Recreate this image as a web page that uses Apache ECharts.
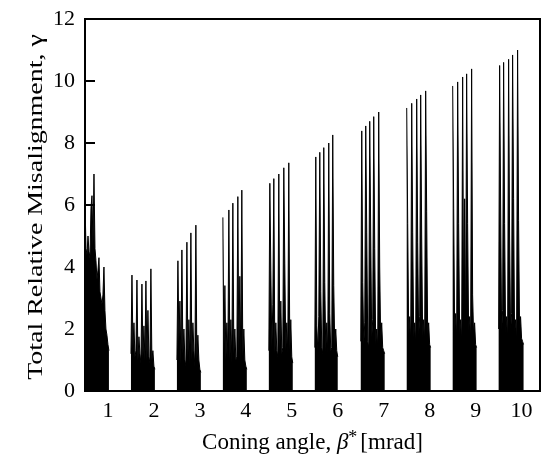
<!DOCTYPE html>
<html>
<head>
<meta charset="utf-8">
<script src="https://cdn.jsdelivr.net/npm/echarts@6/dist/echarts.min.js"></script>
<style>html,body{margin:0;padding:0;background:#fff}#c{width:542px;height:469px}</style>
</head>
<body>
<div id="c"></div>
<script>
// Coning angle tick labels (mrad)
const coningAngles = [1, 2, 3, 4, 5, 6, 7, 8, 9, 10];
// start of each sweep cluster on the coning-angle axis
const groupStart = [0.5, 1.5, 2.5, 3.5, 4.5, 5.5, 6.5, 7.5, 8.5, 9.5];
// spacing between samples inside a cluster (mrad)
const sampleStep = 0.0217;
const yTicks = [0, 2, 4, 6, 8, 10, 12];

// Total relative misalignment samples, one array per coning angle
const group1 = [6.1, 4.6, 4.4, 5.0, 4.5, 4.3, 5.9, 6.3, 4.7, 7.0, 4.6, 4.2, 3.6, 3.9, 4.3, 3.2, 3.0, 2.8, 3.1, 4.0, 2.6, 2.0, 1.8, 1.5, 1.3];
const group2 = [1.2, 3.74, 1.4, 2.2, 1.1, 1.3, 3.58, 1.0, 1.75, 1.2, 0.9, 3.45, 1.1, 2.1, 1.0, 3.55, 1.0, 2.6, 1.1, 0.9, 3.94, 1.0, 1.3, 0.8, 0.7];
const group3 = [1.0, 4.2, 1.6, 2.9, 0.9, 4.55, 1.2, 2.0, 1.0, 0.8, 4.8, 1.1, 2.3, 0.9, 5.1, 1.0, 2.2, 1.3, 0.8, 5.35, 1.0, 1.8, 1.0, 0.7, 0.6];
const group4 = [5.6, 1.2, 3.4, 1.0, 2.2, 1.1, 5.84, 1.0, 2.3, 0.9, 6.06, 1.2, 2.0, 1.0, 1.1, 6.27, 1.2, 3.7, 1.0, 6.48, 1.1, 2.0, 1.0, 0.8, 0.7];
const group5 = [1.3, 6.7, 3.9, 1.4, 2.8, 6.85, 1.2, 2.2, 1.3, 1.1, 7.0, 1.3, 2.9, 1.2, 1.4, 7.2, 4.1, 1.3, 2.2, 1.2, 7.36, 1.3, 2.3, 1.1, 0.9];
const group6 = [1.4, 7.55, 2.1, 1.3, 2.4, 7.7, 3.2, 1.4, 1.2, 7.85, 3.5, 1.3, 2.2, 1.2, 8.0, 2.5, 1.3, 1.4, 8.26, 3.4, 1.5, 2.0, 1.3, 1.1];
const group7 = [1.6, 8.39, 3.5, 1.5, 2.2, 8.55, 5.1, 1.6, 1.4, 8.7, 5.0, 1.7, 2.3, 8.85, 4.6, 1.5, 2.0, 1.4, 9.0, 4.0, 1.6, 2.2, 1.4, 1.3, 1.2];
const group8 = [9.13, 5.4, 1.8, 2.4, 1.6, 9.28, 5.1, 1.7, 2.2, 1.5, 9.42, 4.8, 1.8, 2.4, 9.55, 5.0, 1.7, 2.3, 1.6, 9.68, 5.8, 1.8, 2.2, 1.5, 1.4];
const group9 = [9.84, 5.9, 1.9, 2.5, 1.7, 9.97, 5.4, 1.8, 2.3, 1.6, 10.13, 2.4, 6.2, 1.8, 10.23, 5.4, 1.9, 2.4, 1.7, 10.39, 3.1, 1.8, 2.2, 1.5, 1.4];
const group10 = [2.0, 10.5, 6.0, 1.9, 2.6, 10.6, 5.4, 1.8, 2.4, 1.7, 10.7, 5.0, 1.9, 2.5, 10.84, 6.2, 1.8, 2.3, 1.6, 11.0, 5.5, 1.9, 2.4, 1.7, 1.6, 1.5];

const groups = [group1, group2, group3, group4, group5, group6, group7, group8, group9, group10];

const serif = '"Liberation Serif", "Times New Roman", serif';

const series = groups.map((g, k) => ({
  type: 'line',
  data: g.map((v, i) => [groupStart[k] + i * sampleStep, v]),
  showSymbol: false,
  symbol: 'none',
  silent: true,
  lineStyle: { color: '#000', width: 1, join: 'bevel' },
  areaStyle: { color: '#000', opacity: 1 },
  z: 1
}));

const chart = echarts.init(document.getElementById('c'), null, { renderer: 'canvas' });
chart.setOption({
  animation: false,
  backgroundColor: '#fff',
  grid: {
    left: 85, right: 2, top: 19, bottom: 78,
    show: true, borderColor: '#000', borderWidth: 2, backgroundColor: 'transparent'
  },
  xAxis: {
    type: 'value',
    min: 0.5,
    max: 10.4,
    axisLine: { show: true, lineStyle: { color: '#000', width: 2 } },
    axisTick: { show: false },
    splitLine: { show: false },
    axisLabel: {
      customValues: coningAngles,
      color: '#000',
      fontFamily: serif,
      fontSize: 22,
      margin: 9,
      formatter: v => String(v)
    },
    name: 'Coning angle, {b|β}{s|*}[mrad]',
    nameLocation: 'middle',
    nameGap: 38,
    nameTextStyle: {
      color: '#000', fontFamily: serif, fontSize: 23,
      rich: {
        b: { fontFamily: serif, fontStyle: 'italic', fontSize: 23, color: '#000' },
        s: { fontFamily: serif, fontSize: 18, color: '#000', verticalAlign: 'top', padding: [0, 3, 10, 0] }
      }
    }
  },
  yAxis: {
    type: 'value',
    min: 0,
    max: 12,
    interval: 2,
    axisLine: { show: true, lineStyle: { color: '#000', width: 2 } },
    axisTick: { show: true, inside: true, length: 10, lineStyle: { color: '#000', width: 2 } },
    splitLine: { show: false },
    axisLabel: { color: '#000', fontFamily: serif, fontSize: 22, margin: 10 }
  },
  graphic: [{
    type: 'text',
    x: 36,
    y: 207,
    rotation: Math.PI / 2,
    scaleX: 1.33,
    silent: true,
    style: {
      text: 'Total Relative Misalignment, γ',
      fontFamily: serif,
      fontSize: 21,
      fill: '#000',
      align: 'center',
      verticalAlign: 'middle'
    }
  }],
  series: series
});
</script>
</body>
</html>
